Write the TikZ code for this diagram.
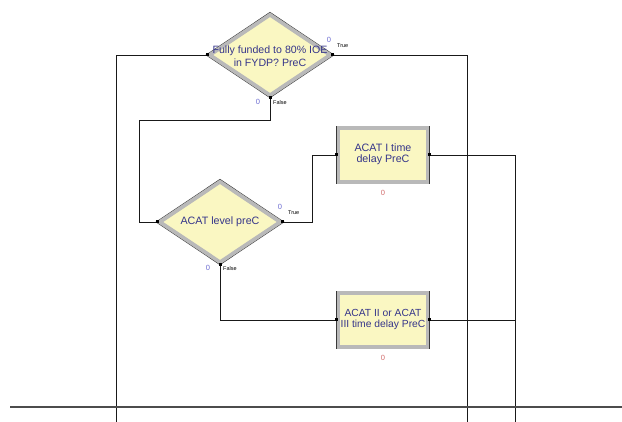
\documentclass[tikz,border=0pt]{standalone}
\usepackage{fontspec}
\setmainfont{Liberation Sans}
\usetikzlibrary{shapes.geometric}
\definecolor{fillY}{HTML}{FAF7C2}
\definecolor{txtB}{HTML}{35358A}
\definecolor{zeroB}{HTML}{6A6AD0}
\definecolor{zeroR}{HTML}{D06A6A}
\tikzset{
  dia/.style={shape=diamond, minimum width=122pt, minimum height=82pt, inner sep=0pt, fill=fillY,
     preaction={draw=gray!45!black, line width=4.8pt}, draw=gray!55, line width=3.8pt},
  procbox/.style={shape=rectangle, minimum width=89pt, minimum height=54pt, inner sep=0pt, fill=fillY,
     preaction={draw=gray!45!black, line width=4.4pt}, draw=gray!55, line width=3.4pt},
  lbl/.style={text=txtB, align=center, font=\fontsize{10.7}{11.5}\selectfont, inner sep=0pt},
  conn/.style={draw=black!90, line width=0.9pt},
  port/.style={fill=black, minimum size=3pt, inner sep=0pt, shape=rectangle},
  zb/.style={text=zeroB, font=\fontsize{7.5}{7.5}\selectfont, inner sep=0pt},
  zr/.style={text=zeroR, font=\fontsize{7.5}{7.5}\selectfont, inner sep=0pt},
  tf/.style={text=black, font=\fontsize{5.5}{6}\selectfont, inner sep=0pt, anchor=west},
}
\begin{document}
\begin{tikzpicture}[x=1pt,y=-1pt]
\useasboundingbox (0,0) rectangle (622,422);

% shapes
\node[dia] (d1) at (270,55) {};
\node[lbl, font=\fontsize{10.6}{13.5}\selectfont] (d1t) at (270,56) {Fully funded to 80\% IOE\\in FYDP? PreC};
\node[dia] (d2) at (220,222) {};
\node[lbl] (d2t) at (220,222) {ACAT level preC};
\node[procbox] (b1) at (383,155) {};
\node[lbl] (b1t) at (383,154) {ACAT I time\\delay PreC};
\node[procbox] (b2) at (383,320) {};
\node[lbl, font=\fontsize{10.3}{11}\selectfont] (b2t) at (383,319) {ACAT II or ACAT\\III time delay PreC};

% free ends
\coordinate (e1) at (116,422);
\coordinate (e2) at (467,422);
\coordinate (e3) at (515,422);
\coordinate (f1) at (139,120);
\coordinate (t2) at (312,222);
\coordinate (j2) at (515,320);
\coordinate (hl) at (10,407);
\coordinate (hr) at (622,407);

% connectors
\draw[conn] (d1.west) -| (e1);
\draw[conn] (d1.east) -| (e2);
\draw[conn] (d1.south) |- (f1) |- (d2.west);
\draw[conn] (d2.east) -- (t2) |- (b1.west);
\draw[conn] (d2.south) |- (b2.west);
\draw[conn] (b1.east) -| (e3);
\draw[conn] (b2.east) -- (j2);
\draw[draw=gray!60!black, line width=1.3pt] (hl) -- (hr);

% ports
\foreach \p in {d1.west,d1.east,d1.south,d2.west,d2.east,d2.south,b1.west,b1.east,b2.west,b2.east}
  \node[port] at (\p) {};

% counters and labels
\node[zb] (z1) at (329,40) {0};
\node[tf] (tt1) at (337,46) {True};
\node[zb] (z2) at (258,102) {0};
\node[tf] (ff1) at (273,103) {False};
\node[zb] (z3) at (280,207) {0};
\node[tf] (tt2) at (288,213) {True};
\node[zb] (z4) at (208,268) {0};
\node[tf] (ff2) at (223,269) {False};
\node[zr] (z5) at (383,193) {0};
\node[zr] (z6) at (383,358) {0};
\end{tikzpicture}
\end{document}
